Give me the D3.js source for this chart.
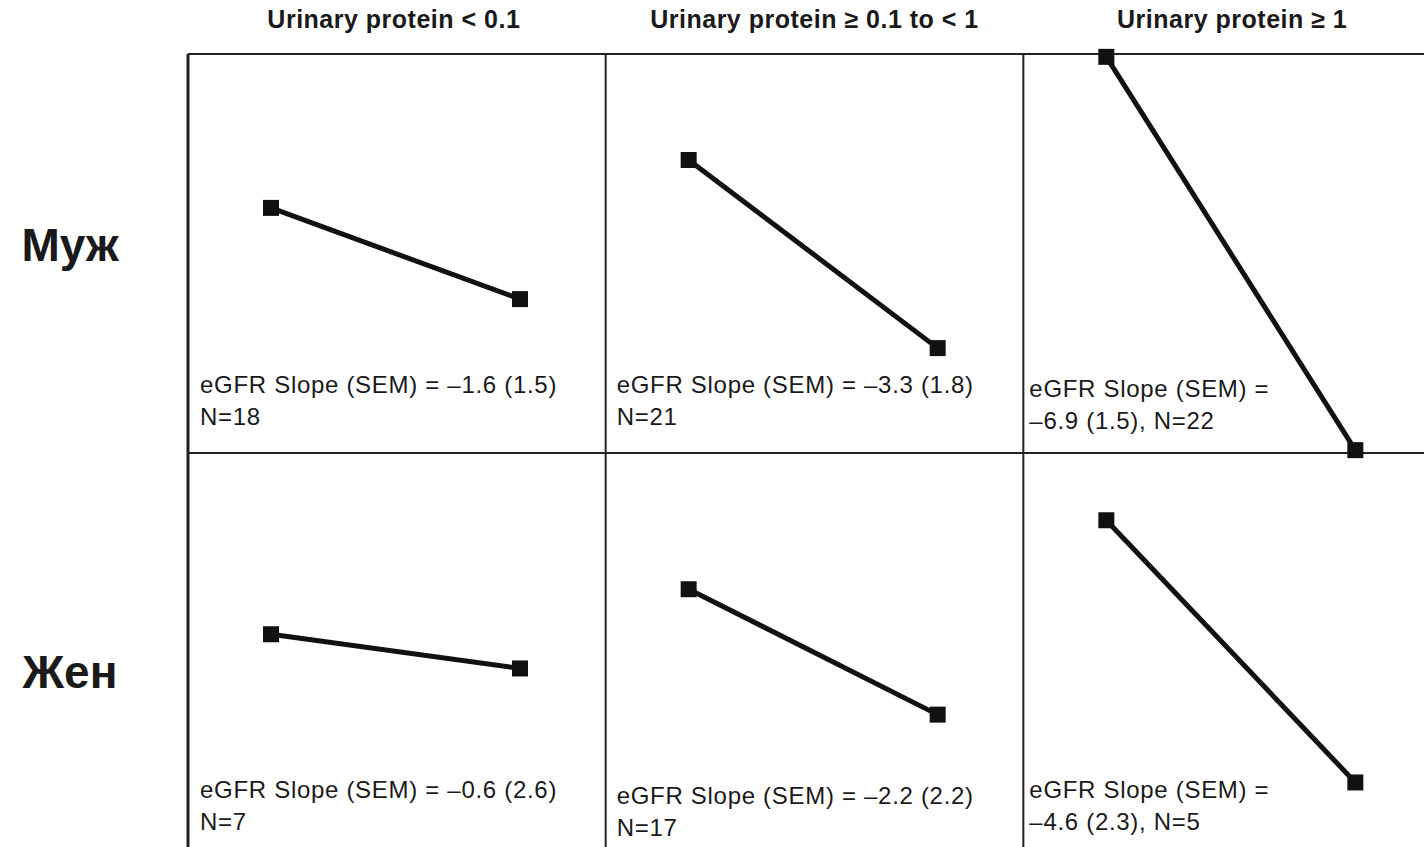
<!DOCTYPE html>
<html>
<head>
<meta charset="utf-8">
<script src="https://cdn.jsdelivr.net/npm/d3@7"></script>
<style>
  body { margin: 0; background: #fff; }
  text { font-family: "Liberation Sans", Arial, sans-serif; fill: #1a1a1a; }
</style>
</head>
<body>
<script>
// column / row categories
const columns = ["Urinary protein < 0.1", "Urinary protein \u2265 0.1 to < 1", "Urinary protein \u2265 1"];
const rows = ["Муж", "Жен"];
const timePoints = [0, 1];

// eGFR (relative units) at the two time points, one pair per column
const maleEgfr = [[4.3, 2.7], [5.14, 1.84], [6.95, 0.05]];
const femaleEgfr = [[3.82, 3.22], [4.61, 2.41], [5.82, 1.22]];

// annotation values
const maleSlope = ["\u20131.6 (1.5)", "\u20133.3 (1.8)", "\u20136.9 (1.5)"];
const femaleSlope = ["\u20130.6 (2.6)", "\u20132.2 (2.2)", "\u20134.6 (2.3)"];
const maleN = [18, 21, 22];
const femaleN = [7, 17, 5];

const egfrByRow = [maleEgfr, femaleEgfr];
const slopeByRow = [maleSlope, femaleSlope];
const nByRow = [maleN, femaleN];

const W = 1424, H = 847;
const svg = d3.select("body").append("svg")
  .attr("width", W)
  .attr("height", H);

const colScale = d3.scaleBand()
  .domain(d3.range(columns.length))
  .range([188, 1441]);

const rowScale = d3.scaleBand()
  .domain(d3.range(rows.length))
  .range([54, 852]);

const cw = colScale.bandwidth();
const rh = rowScale.bandwidth();

// within-cell scales
const xScale = d3.scaleLinear()
  .domain([0, 1])
  .range([83, 332]);

const yScale = d3.scaleLinear()
  .domain([7, 0])
  .range([0, rh]);

const line = d3.line()
  .x(d => xScale(d.t))
  .y(d => yScale(d.v));

// column headers
svg.selectAll(".colhead")
  .data(columns)
  .enter()
  .append("text")
  .attr("class", "colhead")
  .attr("x", (d, i) => colScale(i) + cw / 2 - (i === 0 ? 3 : 0))
  .attr("y", 28)
  .attr("text-anchor", "middle")
  .attr("font-weight", "bold")
  .attr("font-size", 25)
  .attr("letter-spacing", 0.5)
  .text(d => d);

// row headers
svg.selectAll(".rowhead")
  .data(rows)
  .enter()
  .append("text")
  .attr("class", "rowhead")
  .attr("x", 70)
  .attr("y", (d, i) => rowScale(i) + 207 + i * 28)
  .attr("text-anchor", "middle")
  .attr("font-weight", "bold")
  .attr("font-size", 46)
  .text(d => d);

// grid
const grid = svg.append("g").attr("stroke", "#222").attr("fill", "none");
columns.forEach((c, i) => {
  grid.append("line")
    .attr("x1", colScale(i)).attr("x2", colScale(i))
    .attr("y1", rowScale(0)).attr("y2", H + 10)
    .attr("stroke-width", i === 0 ? 3 : 2);
});
rows.forEach((r, j) => {
  grid.append("line")
    .attr("x1", colScale(0)).attr("x2", W + 10)
    .attr("y1", rowScale(j)).attr("y2", rowScale(j))
    .attr("stroke-width", 2);
});

// cells
const textOffsetX = [12, 11, 6];
rows.forEach((r, j) => {
  columns.forEach((c, i) => {
    const cell = svg.append("g")
      .attr("transform", `translate(${colScale(i)}, ${rowScale(j)})`);

    const pts = timePoints.map((t, k) => ({ t: t, v: egfrByRow[j][i][k] }));

    cell.append("path")
      .attr("d", line(pts))
      .attr("fill", "none")
      .attr("stroke", "#111")
      .attr("stroke-width", 5);

    cell.selectAll("rect")
      .data(pts)
      .enter()
      .append("rect")
      .attr("x", d => xScale(d.t) - 8)
      .attr("y", d => yScale(d.v) - 8)
      .attr("width", 16)
      .attr("height", 16)
      .attr("fill", "#111");

    let lines;
    if (i === 2) {
      lines = ["eGFR Slope (SEM) =", `${slopeByRow[j][i]}, N=${nByRow[j][i]}`];
    } else {
      lines = [`eGFR Slope (SEM) = ${slopeByRow[j][i]}`, `N=${nByRow[j][i]}`];
    }
    const base = j === 0 ? (i === 2 ? 343 : 339) : (i === 1 ? 351 : 345);
    cell.selectAll("text")
      .data(lines)
      .enter()
      .append("text")
      .attr("x", textOffsetX[i])
      .attr("y", (d, k) => base + k * 32)
      .attr("font-size", 24)
      .attr("letter-spacing", 0.7)
      .text(d => d);
  });
});
</script>
</body>
</html>
